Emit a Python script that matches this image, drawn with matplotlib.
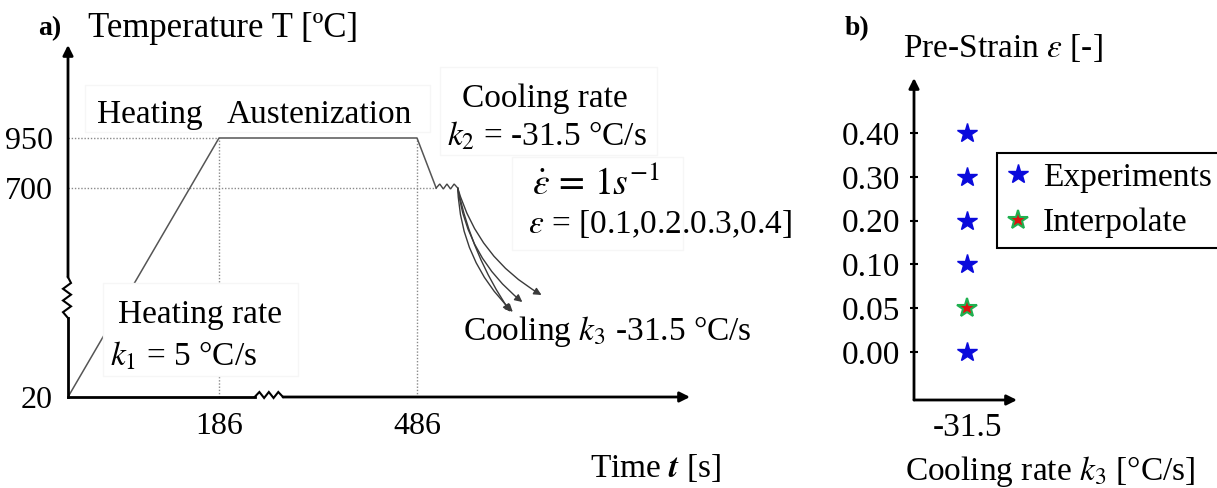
import numpy as np
import matplotlib
matplotlib.use("Agg")
import matplotlib.pyplot as plt
from matplotlib.transforms import IdentityTransform
from matplotlib.patches import Rectangle

# ---------------- data ----------------
# Panel a: schematic thermal profile
temp_ticks = [20, 700, 950]
time_ticks = [186, 486]
profile_time = [0, 186, 486, 494]
profile_temp = [20, 950, 950, 700]
deform_time = [494, 503]
deform_temp = 700
cool_end_time = [538, 530, 526, 525]
cool_end_temp = [352, 329, 297, 297]
cool_rad = [0.2, 0.2, 0.2, 0.1]

# Panel b: test matrix
rate_labels = ['-31.5']
strain_labels = ['0.00', '0.05', '0.10', '0.20', '0.30', '0.40']
exp_strains = ['0.00', '0.10', '0.20', '0.30', '0.40']
interp_strains = ['0.05']

# ---------------- style ----------------
plt.rcParams['font.family'] = ['Liberation Serif', 'DejaVu Serif']
plt.rcParams['mathtext.fontset'] = 'stix'

W, H = 1217, 488
fig = plt.figure(figsize=(W / 100, H / 100), dpi=100)
fig.patch.set_facecolor('white')


def fx(x):
    return x / W


def fy(y):
    return 1 - y / H


def rect_px(x0, y0, x1, y1):
    return [fx(x0), fy(y1), fx(x1) - fx(x0), fy(y0) - fy(y1)]


# broken-axis scales (piecewise linear) for the schematic
t_knots = np.array([0, 186, 486, 600], float)
t_pos = np.array([0, 151, 349, 622], float)
T_knots = np.array([20, 700, 950, 1415], float)
T_pos = np.array([0, 209, 259, 352], float)


def pw(xk, yk):
    def f(v):
        v = np.asarray(v, float)
        out = np.interp(v, xk, yk)
        lo = v < xk[0]
        hi = v > xk[-1]
        s0 = (yk[1] - yk[0]) / (xk[1] - xk[0])
        s1 = (yk[-1] - yk[-2]) / (xk[-1] - xk[-2])
        out = np.where(lo, yk[0] + (v - xk[0]) * s0, out)
        out = np.where(hi, yk[-1] + (v - xk[-1]) * s1, out)
        return out
    return f


# ---------------- panel a ----------------
ax = fig.add_axes(rect_px(68, 45, 690, 397))
ax.set_xscale('function', functions=(pw(t_knots, t_pos), pw(t_pos, t_knots)))
ax.set_yscale('function', functions=(pw(T_knots, T_pos), pw(T_pos, T_knots)))
ax.set_xlim(0, 600)
ax.set_ylim(20, 1415)
ax.set_autoscale_on(False)
for s in ax.spines.values():
    s.set_visible(False)
ax.set_facecolor('none')

ax.set_yticks(temp_ticks, [str(v) for v in temp_ticks])
ax.set_xticks(time_ticks, [str(v) for v in time_ticks])
ax.tick_params(axis='y', length=0, pad=11, labelsize=23)
ax.tick_params(axis='x', length=0, pad=11, labelsize=23)

dot = dict(color='#8a8a8a', lw=1.0, ls=(0, (1, 1.3)))
ax.plot([0, time_ticks[0]], [temp_ticks[2]] * 2, **dot)
ax.plot([0, profile_time[3]], [temp_ticks[1]] * 2, **dot)
ax.plot([time_ticks[0]] * 2, [temp_ticks[0], temp_ticks[2]], **dot)
ax.plot([time_ticks[1]] * 2, [temp_ticks[0], temp_ticks[2]], **dot)

ax.plot(profile_time, profile_temp, color='#555555', lw=1.1)

lw_ax = 2.0


def zig(p0, p1, offsets, lw=lw_ax, color='black'):
    a = ax.transData.transform(p0)
    b = ax.transData.transform(p1)
    d = b - a
    L = np.hypot(*d)
    u = d / L
    perp = np.array([-u[1], u[0]])
    s = np.linspace(0, 1, len(offsets))
    pts = a + np.outer(s, d) + np.outer(offsets, perp)
    ax.plot(pts[:, 0], pts[:, 1], transform=IdentityTransform(), color=color,
            lw=lw, clip_on=False, solid_joinstyle='miter')


# axes lines with breaks
ybreak = (277, 410)
xbreak = (240, 283)
ax.plot([0, 0], [20, ybreak[0]], color='black', lw=lw_ax, clip_on=False,
        solid_capstyle='projecting')
zig((0, ybreak[0]), (0, ybreak[1]), [0, 5, -3, 5, -3, 5, -3, 0], lw=1.5)
ax.annotate('', xy=(0, 1415), xytext=(0, ybreak[1]), xycoords='data',
            arrowprops=dict(arrowstyle='-|>', lw=lw_ax, color='black',
                            mutation_scale=15, shrinkA=0, shrinkB=0))
ax.plot([0, xbreak[0]], [20, 20], color='black', lw=lw_ax, clip_on=False,
        solid_capstyle='projecting')
zig((xbreak[0], 20), (xbreak[1], 20), [0, 5, -1, 5, -1, 5, 0], lw=1.5)
ax.annotate('', xy=(600, 20), xytext=(xbreak[1], 20), xycoords='data',
            arrowprops=dict(arrowstyle='-|>', lw=lw_ax, color='black',
                            mutation_scale=15, shrinkA=0, shrinkB=0))

# deformation zigzag
zig((deform_time[0], deform_temp), (deform_time[1], deform_temp),
    [0, 4, -1, 4, -1, 4, 0], lw=1.0, color='#444444')

# cooling curves
for te, Te, r in zip(cool_end_time, cool_end_temp, cool_rad):
    ax.annotate('', xy=(te, Te), xytext=(deform_time[1], deform_temp),
                arrowprops=dict(arrowstyle='-|>', lw=1.0, color='#3a3a3a',
                                connectionstyle=f'arc3,rad={r}',
                                mutation_scale=11, shrinkA=0, shrinkB=0))

# white text boxes (PowerPoint style)
box_edge = '#f6f6f6'
for (x0, y0, x1, y1) in [(85, 85, 430, 132), (440, 67, 657, 155),
                         (512, 157, 683, 250), (103, 283, 298, 376)]:
    fig.patches.append(Rectangle((fx(x0), fy(y1)), fx(x1) - fx(x0),
                                 fy(y0) - fy(y1), transform=fig.transFigure,
                                 facecolor='white', edgecolor=box_edge, lw=1,
                                 zorder=1))

FS = 24
fig.text(fx(38), fy(35), 'a)', fontsize=20, fontweight='bold', va='baseline')
fig.text(fx(88), fy(37), 'Temperature T [ºC]', fontsize=25, va='baseline')
fig.text(fx(97), fy(123), 'Heating', fontsize=FS, va='baseline')
fig.text(fx(227), fy(123), 'Austenization', fontsize=FS, va='baseline')
fig.text(fx(545), fy(107), 'Cooling rate', fontsize=FS, va='baseline', ha='center')
fig.text(fx(447), fy(145), r'$\mathit{k_2}$ = -31.5 °C/s', fontsize=FS, va='baseline')
fig.text(fx(532), fy(195), r'$\dot{\varepsilon}\,=\,1s^{-1}$', fontsize=27, va='baseline')
fig.text(fx(528), fy(233), r'$\varepsilon$ = [0.1,0.2.0.3,0.4]', fontsize=FS, va='baseline')
fig.text(fx(463), fy(340), r'Cooling $\mathit{k_3}$ -31.5 °C/s', fontsize=FS, va='baseline')
fig.text(fx(200), fy(323), 'Heating rate', fontsize=FS, va='baseline', ha='center')
fig.text(fx(110), fy(365), r'$\mathit{k_1}$ = 5 °C/s', fontsize=FS, va='baseline')
fig.text(fx(590), fy(477), r'Time $\mathbfit{t}$ [s]', fontsize=FS, va='baseline')

# ---------------- panel b ----------------
bx = fig.add_axes(rect_px(914, 78, 1017, 400))
bx.set_facecolor('none')
pos = {lab: i for i, lab in enumerate(strain_labels)}
bx.plot([0] * len(exp_strains), [pos[s] for s in exp_strains], ls='none',
        marker='*', ms=15, color='#0a0adc', mec='#0a0adc', label='Experiments')
bx.plot([0] * len(interp_strains), [pos[s] for s in interp_strains], ls='none',
        marker='*', ms=15, color='#e01010', mec='#20b050', mew=1.5,
        label='Interpolate')
bx.set_xlim(-1, 0.94)
bx.set_ylim(-1.1, 6.26)
for s in bx.spines.values():
    s.set_visible(False)
bx.set_yticks(range(len(strain_labels)), strain_labels)
bx.set_xticks([0], rate_labels)
bx.tick_params(axis='y', direction='inout', length=6, width=1.5, pad=7,
               labelsize=FS)
bx.tick_params(axis='x', length=0, pad=9, labelsize=FS)
bx.annotate('', xy=(0, 1), xytext=(0, 0), xycoords='axes fraction',
            arrowprops=dict(arrowstyle='-|>', lw=lw_ax, color='black',
                            mutation_scale=15, shrinkA=0, shrinkB=0))
bx.annotate('', xy=(1, 0), xytext=(0, 0), xycoords='axes fraction',
            arrowprops=dict(arrowstyle='-|>', lw=lw_ax, color='black',
                            mutation_scale=15, shrinkA=0, shrinkB=0))

leg = fig.legend(*bx.get_legend_handles_labels(), loc='upper left',
                 bbox_to_anchor=(fx(997), fy(153)), fontsize=FS, frameon=True,
                 fancybox=False, edgecolor='black', framealpha=1,
                 handlelength=0.7, handletextpad=0.4, labelspacing=0.45,
                 borderpad=0.28, borderaxespad=0)
leg.get_frame().set_linewidth(1.5)

fig.text(fx(845), fy(35), 'b)', fontsize=20, fontweight='bold', va='baseline')
fig.text(fx(903), fy(57), r'Pre-Strain $\varepsilon$ [-]', fontsize=FS, va='baseline')
fig.text(fx(905), fy(480), r'Cooling rate $\mathit{k_3}$ [°C/s]', fontsize=FS, va='baseline')

fig.savefig('out.png', dpi=100)
